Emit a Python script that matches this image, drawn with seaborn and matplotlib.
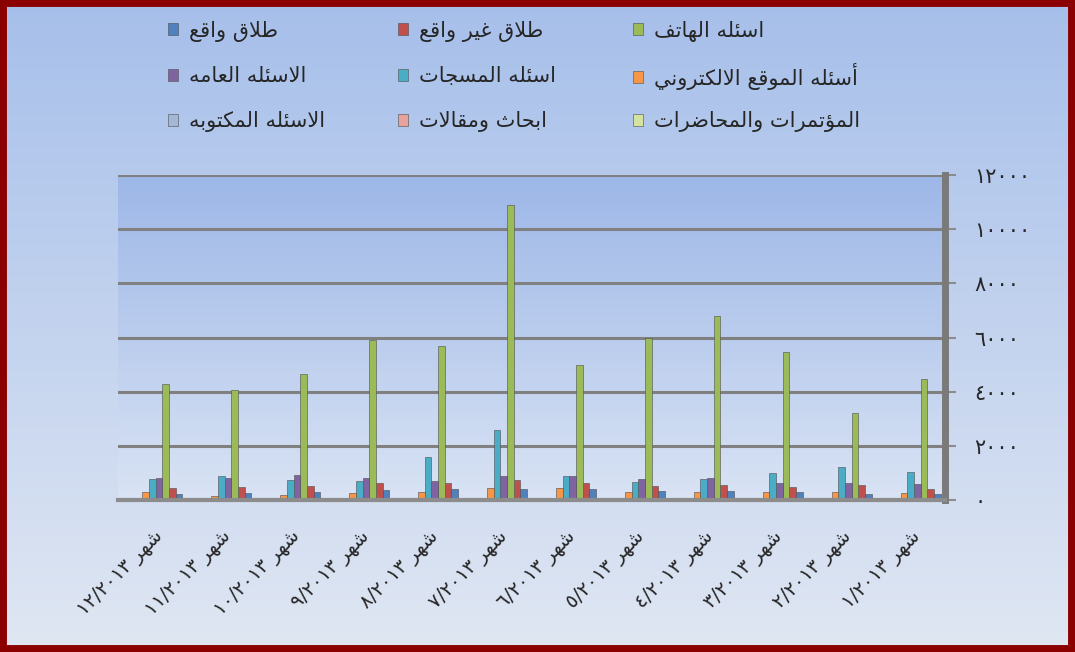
import re
import numpy as np
import pandas as pd
import matplotlib
matplotlib.use("Agg")
import matplotlib.pyplot as plt
import seaborn as sns
from matplotlib.colors import LinearSegmentedColormap
from matplotlib.patches import Rectangle

# months, logical (reading) order 1..12
months = ["شهر ١/٢٠١٣", "شهر ٢/٢٠١٣", "شهر ٣/٢٠١٣", "شهر ٤/٢٠١٣",
          "شهر ٥/٢٠١٣", "شهر ٦/٢٠١٣", "شهر ٧/٢٠١٣", "شهر ٨/٢٠١٣",
          "شهر ٩/٢٠١٣", "شهر ١٠/٢٠١٣", "شهر ١١/٢٠١٣", "شهر ١٢/٢٠١٣"]

series = ["طلاق واقع", "طلاق غير واقع", "اسئله الهاتف", "الاسئله العامه",
          "اسئله المسجات", "أسئله الموقع الالكتروني", "الاسئله المكتوبه",
          "ابحاث ومقالات", "المؤتمرات والمحاضرات"]
colors = ["#4f81bd", "#c0504d", "#9bbb59", "#8064a2", "#4bacc6",
          "#f79646", "#a3b7d6", "#e6a29c", "#d4e3a0"]

divorce = [230, 230, 300, 320, 320, 420, 400, 420, 370, 300, 260, 230]
no_divorce = [410, 540, 490, 540, 520, 640, 750, 630, 630, 520, 470, 440]
phone = [4450, 3200, 5450, 6800, 6000, 5000, 10900, 5700, 5900, 4650, 4050, 4300]
general = [600, 640, 640, 800, 780, 900, 900, 700, 800, 940, 800, 800]
sms = [1050, 1230, 1000, 790, 650, 890, 2580, 1580, 700, 730, 900, 770]
website = [260, 300, 290, 300, 300, 460, 460, 300, 270, 200, 140, 300]
written = [0] * 12
papers = [0] * 12
conferences = [0] * 12

yticks = [0, 2000, 4000, 6000, 8000, 10000, 12000]
ytick_labels = ["٠", "٢٠٠٠", "٤٠٠٠", "٦٠٠٠", "٨٠٠٠", "١٠٠٠٠", "١٢٠٠٠"]

# --- minimal arabic shaping + rtl ordering (matplotlib does neither) ---
RIGHT = {'ا': 0xFE8D, 'أ': 0xFE83, 'إ': 0xFE87, 'آ': 0xFE81, 'ؤ': 0xFE85,
         'ة': 0xFE93, 'د': 0xFEA9, 'ذ': 0xFEAB, 'ر': 0xFEAD, 'ز': 0xFEAF,
         'و': 0xFEED, 'ى': 0xFEEF}
DUAL = {'ئ': 0xFE89, 'ب': 0xFE8F, 'ت': 0xFE95, 'ث': 0xFE99, 'ج': 0xFE9D,
        'ح': 0xFEA1, 'خ': 0xFEA5, 'س': 0xFEB1, 'ش': 0xFEB5, 'ص': 0xFEB9,
        'ض': 0xFEBD, 'ط': 0xFEC1, 'ظ': 0xFEC5, 'ع': 0xFEC9, 'غ': 0xFECD,
        'ف': 0xFED1, 'ق': 0xFED5, 'ك': 0xFED9, 'ل': 0xFEDD, 'م': 0xFEE1,
        'ن': 0xFEE5, 'ه': 0xFEE9, 'ي': 0xFEF1}
LAM_ALEF = {'ا': 0xFEFB, 'أ': 0xFEF7, 'إ': 0xFEF9, 'آ': 0xFEF5}


def ar(s):
    out = []
    i = 0
    while i < len(s):
        c = s[i]
        jp = i > 0 and s[i - 1] in DUAL
        nxt = s[i + 1] if i + 1 < len(s) else ''
        if c == 'ل' and nxt in LAM_ALEF:
            out.append(chr(LAM_ALEF[nxt] + (1 if jp else 0)))
            i += 2
            continue
        jn = nxt in DUAL or nxt in RIGHT
        if c in DUAL:
            b = DUAL[c]
            out.append(chr(b + 3 if jp and jn else b + 1 if jp else b + 2 if jn else b))
        elif c in RIGHT:
            out.append(chr(RIGHT[c] + (1 if jp else 0)))
        else:
            out.append(c)
        i += 1
    vis = ''.join(reversed(out))
    return re.sub(r'[0-9\u0660-\u0669/]+', lambda m: m.group(0)[::-1], vis)


values = [divorce, no_divorce, phone, general, sms, website, written, papers, conferences]
df = pd.DataFrame({
    "month": np.tile(months, len(series)),
    "series": np.repeat(series, len(months)),
    "value": np.concatenate(values),
})

sns.set_style("white")
plt.rcParams['font.family'] = ['DejaVu Sans']

W, H = 1075, 652
fig = plt.figure(figsize=(W / 100, H / 100), dpi=100)

# figure background gradient
bg = fig.add_axes([0, 0, 1, 1], zorder=-10)
grad = np.linspace(0, 1, 256).reshape(-1, 1)
bg.imshow(grad, aspect="auto", extent=[0, 1, 0, 1],
          cmap=LinearSegmentedColormap.from_list("bg", ["#a6bfea", "#e0e7f3"]))
bg.axis("off")

pos = [118 / W, 1 - 500 / H, (945 - 118) / W, (500 - 175) / H]
pa = fig.add_axes(pos, zorder=-5)
pa.imshow(grad, aspect="auto", extent=[0, 1, 0, 1],
          cmap=LinearSegmentedColormap.from_list("pa", ["#9db7e7", "#d9e3f4"]))
pa.axis("off")

ax = fig.add_axes(pos)
ax.patch.set_alpha(0)
sns.barplot(data=df, x="month", y="value", hue="series", order=months,
            hue_order=series, palette=colors, width=0.87, ax=ax,
            edgecolor="#4d4d4d", linewidth=0.4, saturation=1)

handles, labels = ax.get_legend_handles_labels()
ax.get_legend().remove()

ax.set_xlim(11.5, -0.5)
ax.set_ylim(0, 12000)
ax.set_xlabel("")
ax.set_ylabel("")
ax.yaxis.tick_right()
ax.set_yticks(yticks)
ax.set_yticklabels(ytick_labels, fontsize=15)
ax.grid(axis="y", color="#808080", linewidth=2.2)
ax.set_axisbelow(True)
ax.set_xticks(range(len(months)))
ax.set_xticklabels([ar(m) for m in months], rotation=45, ha="right",
                   rotation_mode="anchor", fontsize=14)
ax.set_xticks(np.arange(-0.5, len(months), 1), minor=True)
ax.tick_params(axis="x", which="major", length=0, pad=19)
ax.tick_params(axis="x", which="minor", length=8, width=1.5, color="#8c8c8c")
ax.tick_params(axis="y", length=8, width=1.5, color="#8c8c8c", pad=13)
for s in ["top", "left"]:
    ax.spines[s].set_visible(False)
ax.spines["bottom"].set_color("#8c8c8c")
ax.spines["bottom"].set_linewidth(3)
ax.spines["right"].set_color("#7a7a7a")
ax.spines["right"].set_linewidth(5)

# legend: 3x3 grid, one entry per slot so the rows line up
col_x = [168, 398, 633]
row_y = [31, 76, 122]
cols = [[0, 3, 6], [1, 4, 7], [2, 5, 8]]
for x, idx in zip(col_x, cols):
    for y, i in zip(row_y, idx):
        fig.legend([handles[i]], [ar(series[i])],
                   loc="center left", bbox_to_anchor=(x / W, 1 - y / H),
                   frameon=False, borderpad=0, borderaxespad=0,
                   handlelength=0.5, handleheight=0.5, handletextpad=0.5,
                   fontsize=15)

fig.patches.append(Rectangle((0, 0), 1, 1, transform=fig.transFigure,
                             fill=False, edgecolor="#8b0000", linewidth=10))

fig.savefig("out.png", dpi=100)
